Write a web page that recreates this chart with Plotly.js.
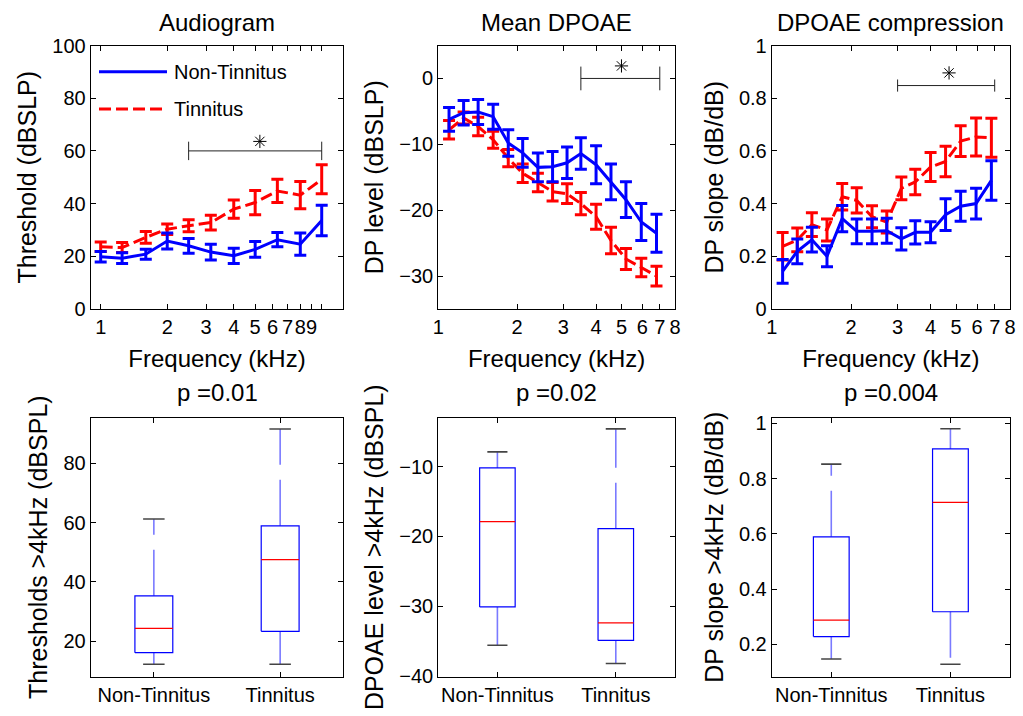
<!DOCTYPE html>
<html><head><meta charset="utf-8">
<script src="https://cdn.plot.ly/plotly-3.0.1.min.js"></script>
<style>html,body{margin:0;padding:0;background:#fff;} #chart{width:1023px;height:716px;}</style>
</head><body><div id="chart"></div>
<script>
// ---------------- data ----------------
const groups = ['Non-Tinnitus', 'Tinnitus'];

// Audiogram
const audFreq = [1, 1.25, 1.6, 2, 2.5, 3.15, 4, 5, 6.3, 8, 10];
const audNonTinnitus = [19.8, 19.3, 20.8, 25.8, 24.0, 21.6, 20.2, 22.6, 26.3, 24.6, 33.6];
const audNonTinnitusErr = [2.0, 2.0, 1.9, 3.0, 2.8, 3.0, 2.9, 3.0, 2.7, 4.2, 5.8];
const audTinnitus = [23.6, 23.3, 27.2, 30.3, 31.6, 32.8, 37.9, 40.4, 44.8, 43.2, 49.2];
const audTinnitusErr = [1.8, 1.9, 2.2, 2.0, 2.3, 2.8, 3.5, 4.6, 4.4, 5.2, 5.5];
const audTickVals = [1, 2, 3, 4, 5, 6, 7, 8, 9, 10];
const audTickText = ['1', '2', '3', '4', '5', '6', '7', '8', '9', ''];

// DPOAE (level and compression share frequencies)
const dpFreq = [1.1, 1.25, 1.42, 1.62, 1.85, 2.1, 2.4, 2.73, 3.1, 3.5, 4.0, 4.56, 5.2, 5.95, 6.8];
const dpLevelNonTinnitus = [-6.2, -5.2, -5.1, -5.8, -9.8, -11.3, -13.5, -13.4, -12.8, -11.4, -13.1, -15.7, -18.4, -21.8, -23.5];
const dpLevelNonTinnitusErr = [1.8, 1.85, 1.9, 1.9, 2.0, 2.2, 2.2, 2.3, 2.4, 2.4, 2.9, 2.7, 2.7, 2.8, 2.9];
const dpLevelTinnitus = [-7.8, -6.0, -7.3, -9.3, -12.1, -14.4, -15.8, -17.2, -17.5, -19.0, -21.0, -24.6, -27.4, -28.7, -30.0];
const dpLevelTinnitusErr = [1.4, 0.9, 1.4, 1.3, 1.3, 1.4, 1.4, 1.4, 1.5, 1.7, 1.9, 2.0, 1.6, 1.4, 1.5];
const dpSlopeNonTinnitus = [0.143, 0.219, 0.263, 0.200, 0.343, 0.295, 0.295, 0.297, 0.266, 0.291, 0.291, 0.358, 0.390, 0.400, 0.488];
const dpSlopeNonTinnitusErr = [0.045, 0.047, 0.047, 0.040, 0.050, 0.047, 0.047, 0.047, 0.042, 0.044, 0.040, 0.060, 0.057, 0.058, 0.075];
const dpSlopeTinnitus = [0.238, 0.262, 0.320, 0.300, 0.426, 0.412, 0.350, 0.330, 0.458, 0.482, 0.539, 0.560, 0.637, 0.653, 0.650];
const dpSlopeTinnitusErr = [0.052, 0.045, 0.045, 0.042, 0.050, 0.048, 0.042, 0.042, 0.043, 0.048, 0.055, 0.058, 0.058, 0.072, 0.074];
const dpTickVals = [1, 2, 3, 4, 5, 6, 7, 8];

// significance bars: [start, end] frequency, bar height, star position
const sigAudX = [2.5, 10], sigAudY = 60, sigAudStar = [5.25, 63.6], sigAudCap = 3.5;
const sigLevelX = [3.5, 7], sigLevelY = 0, sigLevelStar = [5.0, 1.9], sigLevelCap = 1.8;
const sigSlopeX = [3.0, 7], sigSlopeY = 0.848, sigSlopeStar = [4.7, 0.896], sigSlopeCap = 0.023;

// box plot statistics (>4 kHz)
const thrLower = [12.2, 12.2], thrQ1 = [16.1, 23.3], thrMedian = [24.3, 47.5], thrQ3 = [35.3, 58.9], thrUpper = [61.2, 91.6];
const dplLower = [-35.6, -38.2], dplQ1 = [-30.1, -34.9], dplMedian = [-17.9, -32.4], dplQ3 = [-10.2, -18.9], dplUpper = [-7.9, -4.6];
const slLower = [0.147, 0.128], slQ1 = [0.228, 0.318], slMedian = [0.288, 0.714], slQ3 = [0.589, 0.907], slUpper = [0.852, 0.98];
const pValues = ['p =0.01', 'p =0.02', 'p =0.004'];

// ---------------- styling ----------------
const FONT = 'Liberation Sans, Arial, Helvetica, sans-serif';
const BLUE = '#0000ff', RED = '#ff0000', GREY = '#444444', WHISKER = '#7a7aff';
const W = 1023, H = 716;
const px = v => v / W;
const py = v => 1 - v / H;

const colsX = [[90.7, 343.3], [438.2, 675], [771.7, 1010]];
const topY = [45.5, 309];
const botY = [417.7, 676.7];

function lineTrace(x, y, err, color, dash, xa, ya, name) {
  return {
    type: 'scatter', mode: 'lines', x: x, y: y, name: name,
    xaxis: xa, yaxis: ya, showlegend: false, hoverinfo: 'x+y',
    line: {color: color, width: 3, dash: dash},
    error_y: {type: 'data', array: err, visible: true, color: color, thickness: 3, width: 6}
  };
}
function sigTrace(xs, yv, cap, xa, ya) {
  return {
    type: 'scatter', mode: 'lines', x: xs, y: [yv, yv], xaxis: xa, yaxis: ya,
    showlegend: false, hoverinfo: 'skip',
    line: {color: '#222', width: 1},
    error_y: {type: 'constant', value: cap, visible: true, color: '#222', thickness: 1, width: 0}
  };
}
function starTrace(pt, xa, ya) {
  return {
    type: 'scatter', mode: 'markers', x: [pt[0]], y: [pt[1]], xaxis: xa, yaxis: ya,
    showlegend: false, hoverinfo: 'skip',
    marker: {symbol: 'asterisk-open', size: 11, color: '#000', line: {color: '#000', width: 1}}
  };
}
// Box plots: box body drawn from quartiles, whiskers dashed, caps grey, median red
const BOXW = 0.3, CAPHW = 0.085;
function boxTraces(lower, q1, med, q3, upper, xa, ya) {
  const pos = groups.map((g, i) => i + 1);
  const bx = [], by = [], mx = [], my = [], wx = [], wy = [], cx = [], cy = [];
  pos.forEach((c, i) => {
    const l = c - BOXW / 2, r = c + BOXW / 2;
    bx.push(l, r, r, l, l, null); by.push(q1[i], q1[i], q3[i], q3[i], q1[i], null);
    mx.push(l, r, null); my.push(med[i], med[i], null);
    wx.push(c, c, null, c, c, null); wy.push(q3[i], upper[i], null, q1[i], lower[i], null);
    cx.push(c - CAPHW, c + CAPHW, null, c - CAPHW, c + CAPHW, null);
    cy.push(upper[i], upper[i], null, lower[i], lower[i], null);
  });
  const common = {type: 'scatter', mode: 'lines', xaxis: xa, yaxis: ya, showlegend: false, hoverinfo: 'skip'};
  return [
    Object.assign({}, common, {x: wx, y: wy, line: {color: WHISKER, width: 1.6, dash: '46px,15px'}}),
    Object.assign({}, common, {x: cx, y: cy, line: {color: GREY, width: 1.6}}),
    Object.assign({}, common, {x: bx, y: by, line: {color: BLUE, width: 1.2}}),
    Object.assign({}, common, {x: mx, y: my, line: {color: RED, width: 1.2}})
  ];
}

const data = [
  lineTrace(audFreq, audTinnitus, audTinnitusErr, RED, '12px,5px', 'x', 'y', 'Tinnitus'),
  lineTrace(audFreq, audNonTinnitus, audNonTinnitusErr, BLUE, 'solid', 'x', 'y', 'Non-Tinnitus'),
  sigTrace(sigAudX, sigAudY, sigAudCap, 'x', 'y'),
  starTrace(sigAudStar, 'x', 'y'),
  lineTrace(dpFreq, dpLevelTinnitus, dpLevelTinnitusErr, RED, '12px,5px', 'x2', 'y2', 'Tinnitus'),
  lineTrace(dpFreq, dpLevelNonTinnitus, dpLevelNonTinnitusErr, BLUE, 'solid', 'x2', 'y2', 'Non-Tinnitus'),
  sigTrace(sigLevelX, sigLevelY, sigLevelCap, 'x2', 'y2'),
  starTrace(sigLevelStar, 'x2', 'y2'),
  lineTrace(dpFreq, dpSlopeTinnitus, dpSlopeTinnitusErr, RED, '12px,5px', 'x3', 'y3', 'Tinnitus'),
  lineTrace(dpFreq, dpSlopeNonTinnitus, dpSlopeNonTinnitusErr, BLUE, 'solid', 'x3', 'y3', 'Non-Tinnitus'),
  sigTrace(sigSlopeX, sigSlopeY, sigSlopeCap, 'x3', 'y3'),
  starTrace(sigSlopeStar, 'x3', 'y3'),
  ...boxTraces(thrLower, thrQ1, thrMedian, thrQ3, thrUpper, 'x4', 'y4'),
  ...boxTraces(dplLower, dplQ1, dplMedian, dplQ3, dplUpper, 'x5', 'y5'),
  ...boxTraces(slLower, slQ1, slMedian, slQ3, slUpper, 'x6', 'y6')
];

function axis(extra) {
  return Object.assign({
    showline: true, linecolor: '#000', linewidth: 1, mirror: 'ticks',
    ticks: 'inside', ticklen: 5, tickwidth: 1, tickcolor: '#000', tickangle: 0,
    showgrid: false, zeroline: false, fixedrange: true,
    tickfont: {family: FONT, size: 20, color: '#000'}
  }, extra);
}
function xTitle(t) { return {text: t, font: {family: FONT, size: 24, color: '#000'}, standoff: 13}; }
function yTitle(t) { return {text: t, font: {family: FONT, size: 25, color: '#000'}, standoff: 8}; }
function titleAnn(t, i, yc) {
  return {text: t, xref: 'paper', yref: 'paper', x: px((colsX[i][0] + colsX[i][1]) / 2), y: py(yc),
    xanchor: 'center', yanchor: 'middle', showarrow: false, font: {family: FONT, size: 24, color: '#000'}};
}

const layout = {
  width: W, height: H, margin: {l: 0, r: 0, t: 0, b: 0},
  paper_bgcolor: '#fff', plot_bgcolor: '#fff', showlegend: false,
  font: {family: FONT, color: '#000'},
  xaxis: axis({domain: [px(colsX[0][0]), px(colsX[0][1])], anchor: 'y', type: 'log',
    range: [-0.0452, 1.0977], tickvals: audTickVals, ticktext: audTickText, title: xTitle('Frequency (kHz)')}),
  yaxis: axis({domain: [py(topY[1]), py(topY[0])], anchor: 'x', range: [0, 100], tickvals: [0, 20, 40, 60, 80, 100],
    title: yTitle('Threshold (dBSLP)')}),
  xaxis2: axis({domain: [px(colsX[1][0]), px(colsX[1][1])], anchor: 'y2', type: 'log',
    range: [0, Math.log10(8)], tickvals: dpTickVals, ticktext: dpTickVals.map(String), title: xTitle('Frequency (kHz)')}),
  yaxis2: axis({domain: [py(topY[1]), py(topY[0])], anchor: 'x2', range: [-35, 5], tickvals: [-30, -20, -10, 0],
    title: yTitle('DP level (dBSLP)')}),
  xaxis3: axis({domain: [px(colsX[2][0]), px(colsX[2][1])], anchor: 'y3', type: 'log',
    range: [0, Math.log10(8)], tickvals: dpTickVals, ticktext: dpTickVals.map(String), title: xTitle('Frequency (kHz)')}),
  yaxis3: axis({domain: [py(topY[1]), py(topY[0])], anchor: 'x3', range: [0, 1], tickvals: [0, 0.2, 0.4, 0.6, 0.8, 1],
    ticktext: ['0', '0.2', '0.4', '0.6', '0.8', '1'], title: yTitle('DP slope (dB/dB)')}),
  xaxis4: axis({domain: [px(colsX[0][0]), px(colsX[0][1])], anchor: 'y4', range: [0.5, 2.5], tickvals: [1, 2], ticktext: groups}),
  yaxis4: axis({domain: [py(botY[1]), py(botY[0])], anchor: 'x4', range: [8, 95.4], tickvals: [20, 40, 60, 80],
    title: yTitle('Thresholds >4kHz (dBSPL)')}),
  xaxis5: axis({domain: [px(colsX[1][0]), px(colsX[1][1])], anchor: 'y5', range: [0.5, 2.5], tickvals: [1, 2], ticktext: groups}),
  yaxis5: axis({domain: [py(botY[1]), py(botY[0])], anchor: 'x5', range: [-40.1, -3], tickvals: [-40, -30, -20, -10],
    title: yTitle('DPOAE level >4kHz (dBSPL)')}),
  xaxis6: axis({domain: [px(colsX[2][0]), px(colsX[2][1])], anchor: 'y6', range: [0.5, 2.5], tickvals: [1, 2], ticktext: groups}),
  yaxis6: axis({domain: [py(botY[1]), py(botY[0])], anchor: 'x6', range: [0.083, 1.02], tickvals: [0.2, 0.4, 0.6, 0.8, 1],
    ticktext: ['0.2', '0.4', '0.6', '0.8', '1'], title: yTitle('DP slope >4kHz (dB/dB)')}),
  shapes: [
    {type: 'line', xref: 'paper', yref: 'paper', x0: px(99), x1: px(167), y0: py(71.7), y1: py(71.7),
     line: {color: BLUE, width: 3}},
    {type: 'line', xref: 'paper', yref: 'paper', x0: px(99), x1: px(167), y0: py(109), y1: py(109),
     line: {color: RED, width: 3, dash: '12px,5px'}}
  ],
  annotations: [
    {text: 'Non-Tinnitus', xref: 'paper', yref: 'paper', x: px(172), y: py(71.7), xanchor: 'left', yanchor: 'middle',
     showarrow: false, font: {family: FONT, size: 20, color: '#000'}},
    {text: 'Tinnitus', xref: 'paper', yref: 'paper', x: px(172), y: py(109), xanchor: 'left', yanchor: 'middle',
     showarrow: false, font: {family: FONT, size: 20, color: '#000'}},
    titleAnn('Audiogram', 0, 23),
    titleAnn('Mean DPOAE', 1, 23),
    titleAnn('DPOAE compression', 2, 23)
  ].concat(pValues.map((p, i) => titleAnn(p, i, 392)))
};

Plotly.newPlot('chart', data, layout, {staticPlot: true, displayModeBar: false});
</script>
</body></html>
